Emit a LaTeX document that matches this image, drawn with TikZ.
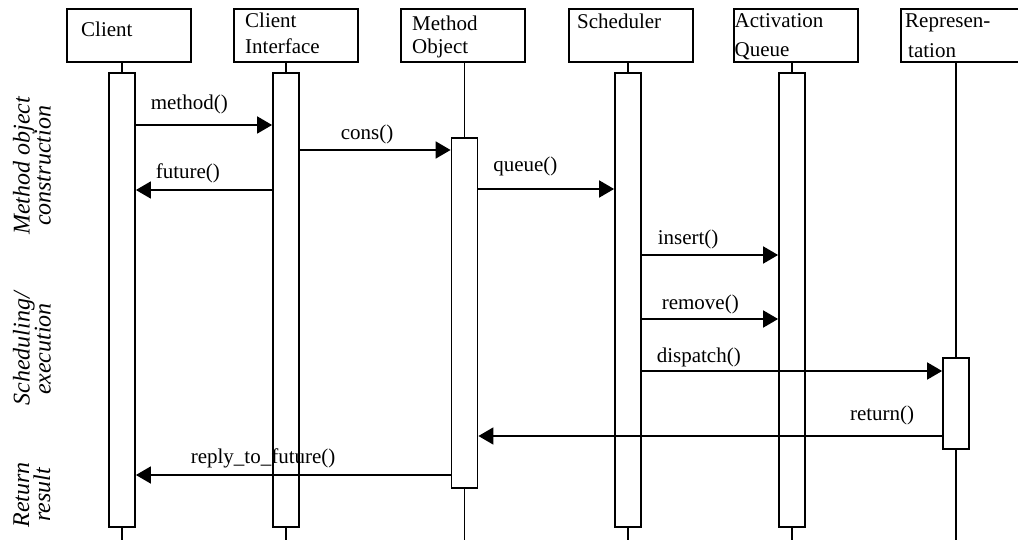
\documentclass[tikz,border=0pt]{standalone}
\usepackage{fontspec}
\setmainfont{Liberation Serif}
\usetikzlibrary{arrows.meta}

\begin{document}
\begin{tikzpicture}[x=1pt, y=-1pt]

\tikzstyle{head}=[draw, line width=1.8pt, minimum width=124pt, minimum height=53pt, anchor=north west, inner sep=0pt]
\tikzstyle{headtxt}=[anchor=north west, align=left, inner sep=0pt, font=\fontsize{21}{26}\selectfont]
\tikzstyle{bar}=[draw, line width=1.8pt, minimum width=26pt, inner sep=0pt]
\tikzstyle{life}=[line width=1.8pt]
\tikzstyle{msg}=[-{Triangle[length=15pt,width=17pt]}, line width=1.8pt]
\tikzstyle{msgtxt}=[inner sep=0pt, font=\fontsize{21}{26}\selectfont]
\tikzstyle{phase}=[rotate=90, align=center, inner sep=0pt, font=\itshape\fontsize{24}{21}\selectfont]

\useasboundingbox (0,0) rectangle (1018,540);

% object heads
\node (client) [head, label={[headtxt, xshift=15pt, yshift=-13.7pt]north west:Client}] at (66,8) {};
\node (iface) [head, label={[headtxt, xshift=12pt, yshift=-4.7pt]north west:Client\\Interface}] at (233,8) {};
\node (method) [head, label={[headtxt, font=\fontsize{21}{23}\selectfont, xshift=12pt, yshift=-7.7pt]north west:Method\\Object}] at (400,8) {};
\node (sched) [head, label={[headtxt, xshift=9pt, yshift=-5.7pt]north west:Scheduler}] at (568,8) {};
\node (queue) [head, label={[headtxt, font=\fontsize{21}{29}\selectfont, xshift=1.5pt, yshift=-5.7pt]north west:Activation\\Queue}] at (733,8) {};
\node (repr) [head, label={[headtxt, font=\fontsize{21}{30}\selectfont, xshift=5pt, yshift=-6pt]north west:Represen-\\\hspace*{3pt}tation}] at (900,8) {};

% activation bars
\node (clientbar) [bar, minimum height=454pt] at (122,300) {};
\node (ifacebar) [bar, minimum height=454pt] at (286,300) {};
\node (methodbar) [bar, minimum height=350pt] at (464.5,313) {};
\node (schedbar) [bar, minimum height=454pt] at (628,300) {};
\node (queuebar) [bar, minimum height=454pt] at (792,300) {};
\node (reprbar) [bar, minimum height=91pt] at (956,403.5) {};

% lifelines
\draw [life] (clientbar.north) -- (clientbar.north |- client.south);
\draw [life] (ifacebar.north) -- (ifacebar.north |- iface.south);
\draw [life] (methodbar.north) -- (methodbar.north |- method.south);
\draw [life] (schedbar.north) -- (schedbar.north |- sched.south);
\draw [life] (queuebar.north) -- (queuebar.north |- queue.south);
\draw [life] (reprbar.north) -- (reprbar.north |- repr.south);
\draw [life] (clientbar.south) -- ++(0,20);
\draw [life] (ifacebar.south) -- ++(0,20);
\draw [life] (methodbar.south) -- ++(0,60);
\draw [life] (schedbar.south) -- ++(0,20);
\draw [life] (queuebar.south) -- ++(0,20);
\draw [life] (reprbar.south) -- ++(0,100);

% messages
\draw [msg] (clientbar.east |- 0,125) -- node[msgtxt, pos=0, anchor=base west, xshift=14pt, yshift=15pt] {method()} (ifacebar.west |- 0,125);
\draw [msg] (ifacebar.east |- 0,150) -- node[msgtxt, pos=0, anchor=base west, xshift=40pt, yshift=10pt] {cons()} (methodbar.west |- 0,150);
\draw [msg] (ifacebar.west |- 0,190) -- node[msgtxt, pos=1, anchor=base west, xshift=19pt, yshift=11pt] {future()} (clientbar.east |- 0,190);
\draw [msg] (methodbar.east |- 0,189) -- node[msgtxt, pos=0, anchor=base west, xshift=14pt, yshift=17pt] {queue()} (schedbar.west |- 0,189);
\draw [msg] (schedbar.east |- 0,255) -- node[msgtxt, pos=0, anchor=base west, xshift=15pt, yshift=10pt] {insert()} (queuebar.west |- 0,255);
\draw [msg] (schedbar.east |- 0,319) -- node[msgtxt, pos=0, anchor=base west, xshift=19pt, yshift=10pt] {remove()} (queuebar.west |- 0,319);
\draw [msg] (schedbar.east |- 0,371) -- node[msgtxt, pos=0, anchor=base west, xshift=14pt, yshift=9pt] {dispatch()} (reprbar.west |- 0,371);
\draw [msg] (reprbar.west |- 0,436) -- node[msgtxt, pos=0, anchor=base east, xshift=-27pt, yshift=16pt] {return()} (methodbar.east |- 0,436);
\draw [msg] (methodbar.west |- 0,475) -- node[msgtxt, pos=1, anchor=base west, xshift=54pt, yshift=12pt] {reply\_to\_future()} (clientbar.east |- 0,475);

% phases
\node (phase1) [phase] at (32,166) {Method object\\construction};
\node (phase2) [phase] at (32,349) {Scheduling/\\execution};
\node (phase3) [phase] at (32,495) {Return\\result};

\end{tikzpicture}
\end{document}
